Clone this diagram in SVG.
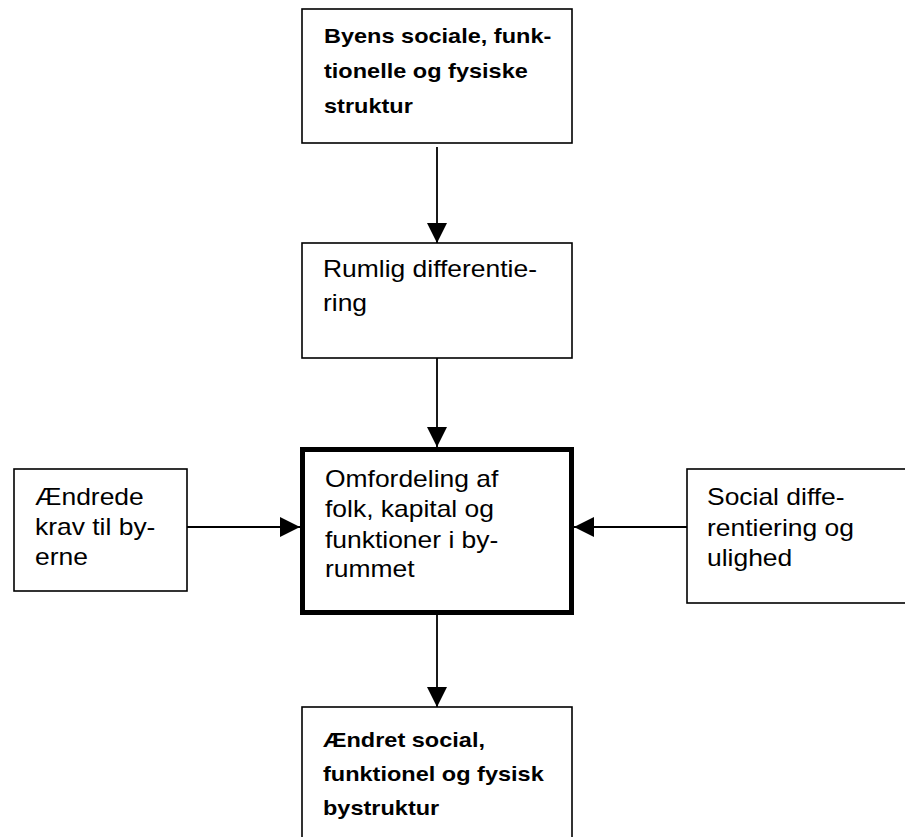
<svg xmlns="http://www.w3.org/2000/svg" width="905" height="837" viewBox="0 0 905 837">
<style>
.box{fill:#fff;stroke:#000;stroke-width:1.6}
.thick{fill:#fff;stroke:#000;stroke-width:5}
.t{font-family:"Liberation Sans",Arial,sans-serif;font-size:23px;fill:#000}
.b{font-family:"Liberation Sans",Arial,sans-serif;font-size:21px;font-weight:bold;fill:#000}
.c{stroke:#000;stroke-width:1.8;fill:none}
</style>
<defs>
<marker id="ah" markerUnits="userSpaceOnUse" markerWidth="20" markerHeight="20" viewBox="0 0 20 20" refX="20" refY="10" orient="auto">
<path d="M0,0 L20,10 L0,20 Z" fill="#000"/>
</marker>
</defs>
<rect width="905" height="837" fill="#fff"/>
<g id="connectors">
<line class="c" x1="437" y1="147" x2="437" y2="243" marker-end="url(#ah)"/>
<line class="c" x1="437" y1="358" x2="437" y2="447" marker-end="url(#ah)"/>
<line class="c" x1="437" y1="615" x2="437" y2="707" marker-end="url(#ah)"/>
<line class="c" x1="187" y1="527" x2="300" y2="527" marker-end="url(#ah)"/>
<line class="c" x1="687" y1="527" x2="574" y2="527" marker-end="url(#ah)"/>
</g>
<g id="n1">
<rect class="box" x="302" y="9" width="270" height="134"/>
<text class="b" transform="translate(324,43) scale(1.12,1)"><tspan x="0" y="0">Byens sociale, funk-</tspan><tspan x="0" y="35">tionelle og fysiske</tspan><tspan x="0" y="70">struktur</tspan></text>
</g>
<g id="n2">
<rect class="box" x="302" y="243" width="270" height="115"/>
<text class="t" transform="translate(323,277) scale(1.15,1)"><tspan x="0" y="0">Rumlig differentie-</tspan><tspan x="0" y="34">ring</tspan></text>
</g>
<g id="n3">
<rect class="thick" x="302.5" y="449.5" width="269" height="163"/>
<text class="t" transform="translate(325,487) scale(1.15,1)"><tspan x="0" y="0">Omfordeling af</tspan><tspan x="0" y="30.5">folk, kapital og</tspan><tspan x="0" y="61">funktioner i by-</tspan><tspan x="0" y="90">rummet</tspan></text>
</g>
<g id="n4">
<rect class="box" x="14" y="469" width="173" height="122"/>
<text class="t" transform="translate(35,505) scale(1.15,1)"><tspan x="0" y="0">Ændrede</tspan><tspan x="0" y="30">krav til by-</tspan><tspan x="0" y="60">erne</tspan></text>
</g>
<g id="n5">
<rect class="box" x="687" y="469" width="230" height="134"/>
<text class="t" transform="translate(707,505) scale(1.15,1)"><tspan x="0" y="0">Social diffe-</tspan><tspan x="0" y="31">rentiering og</tspan><tspan x="0" y="61">ulighed</tspan></text>
</g>
<g id="n6">
<rect class="box" x="302" y="707" width="270" height="150"/>
<text class="b" transform="translate(323,747) scale(1.12,1)"><tspan x="0" y="0">Ændret social,</tspan><tspan x="0" y="34">funktionel og fysisk</tspan><tspan x="0" y="68">bystruktur</tspan></text>
</g>
</svg>
